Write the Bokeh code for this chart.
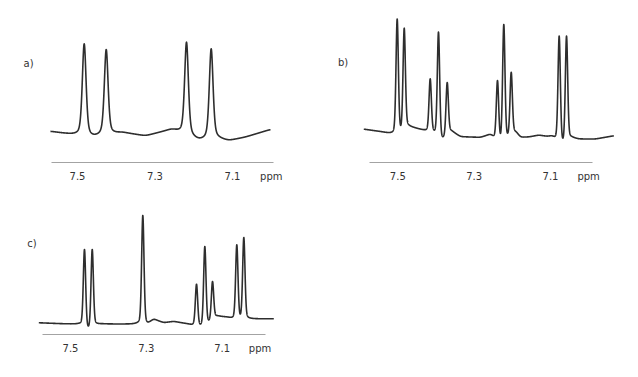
import numpy as np
from bokeh.plotting import figure
from bokeh.models import Range1d, FixedTicker
from bokeh.layouts import column, row
from bokeh.embed import file_html
from bokeh.resources import INLINE
from bokeh.core.properties import value

# ---------------- data ----------------
tick_values = [7.5, 7.3, 7.1, 7.0]
tick_overrides = {7.0: "ppm"}
panel_names = ["a)", "b)", "c)"]

# panel a: peak positions (ppm), peak top intensities, baseline knots
a_peak_ppm = [7.4827, 7.4259, 7.2187, 7.1550]
a_peak_top = [87.7, 82.0, 89.3, 82.7]
a_base_ppm = [7.5697, 7.5008, 7.4621, 7.3847, 7.3245, 7.2556, 7.1870, 7.1395, 7.1095, 7.0665, 7.0019]
a_base_int = [0.0, -4.0, -6.5, -1.2, -4.5, 2.0, -9.5, -7.4, -9.4, -5.7, 2.0]

# panel b
b_peak_ppm = [7.5016, 7.4832, 7.4151, 7.3934, 7.3706, 7.2388, 7.2223, 7.2029, 7.0772, 7.0580]
b_peak_top = [112.3, 103.0, 51.7, 99.0, 48.0, 50.0, 106.7, 58.3, 95.0, 95.0]
b_base_ppm = [7.5891, 7.5453, 7.4929, 7.4754, 7.4581, 7.4319, 7.4049, 7.3837, 7.3619, 7.3357,
              7.2833, 7.2571, 7.2309, 7.2108, 7.1917, 7.1785, 7.1550, 7.1306, 7.1080, 7.0955,
              7.0677, 7.0475, 7.0258, 6.9820, 6.9341]
b_base_int = [0.7, -1.9, -6.2, 3.0, 1.8, -0.8, -4.3, -12.7, -1.1, -7.1,
              -7.8, -4.9, -16.0, -9.9, -2.1, -8.0, -7.3, -5.5, -7.0, -6.7,
              -18.0, -8.2, -9.5, -9.3, -6.0]

# panel c
c_peak_ppm = [7.4631, 7.4427, 7.3092, 7.1675, 7.1456, 7.1253, 7.0612, 7.0427]
c_peak_top = [73.7, 73.7, 107.7, 39.0, 76.7, 41.7, 78.4, 85.7]
c_base_ppm = [7.5836, 7.5219, 7.4736, 7.4533, 7.4340, 7.4164, 7.3372, 7.3198, 7.2976, 7.2802,
              7.2712, 7.2538, 7.2274, 7.1921, 7.1570, 7.1351, 7.1148, 7.0865, 7.0533, 7.0322,
              7.0074, 6.9636]
c_base_int = [0.4, -0.6, -1.3, -9.2, -1.7, -0.9, -1.0, -0.7, -1.6, 4.1,
              2.6, 0.4, 1.7, -0.8, -4.7, -1.1, 6.8, 5.7, 1.8, 4.1,
              4.2, 4.4]

# ---------------- layout / style ----------------
LINE = "#2e2e2e"
AXIS = "#a3a3a3"
TEXT = "#333333"
FONT = "DejaVu Sans"

panels = [
    dict(name=panel_names[0], W=320, H=195, ppx=387.5, ref=77.0, base=131.0, axis=162,
         bounds=(6.9942, 7.5679), fwhm=4.5, eta=0.45, smooth=2.5, lab=(23, 63),
         pk=a_peak_ppm, top=a_peak_top, bx=a_base_ppm, by=a_base_int),
    dict(name=panel_names[1], W=318, H=195, ppx=381.7, ref=77.3, base=131.0, axis=164,
         bounds=(6.9907, 7.5734), fwhm=2.8, eta=0.25, smooth=1.5, lab=(17.5, 62.5),
         pk=b_peak_ppm, top=b_peak_top, bx=b_base_ppm, by=b_base_int),
    dict(name=panel_names[2], W=320, H=182, ppx=379.0, ref=70.0, base=127.7, axis=139,
         bounds=(6.9855, 7.5731), fwhm=2.8, eta=0.25, smooth=1.5, lab=(26.7, 48.3),
         pk=c_peak_ppm, top=c_peak_top, bx=c_base_ppm, by=c_base_int),
]


def shape(x, x0, fwhm, eta):
    d = (x - x0) / fwhm
    return eta / (1.0 + 4.0 * d * d) + (1.0 - eta) * np.exp(-4.0 * np.log(2.0) * d * d)


def make_panel(P):
    ppx = P["ppx"]
    xs = 7.5 + P["ref"] / ppx
    xe = 7.5 - (P["W"] - P["ref"]) / ppx
    ys = P["base"] - P["axis"]
    ye = P["base"]
    p = figure(width=P["W"], height=P["H"], output_backend="svg", toolbar_location=None,
               x_range=Range1d(xs, xe), y_range=Range1d(ys, ye), title=None,
               y_axis_location=None, min_border=0)
    p.min_border_left = 0
    p.min_border_right = 0
    p.min_border_top = 0
    p.min_border_bottom = P["H"] - P["axis"]
    p.outline_line_color = None
    p.background_fill_color = "white"
    p.border_fill_color = "white"
    p.xgrid.visible = False
    p.ygrid.visible = False

    ax = p.xaxis[0]
    ax.ticker = FixedTicker(ticks=tick_values)
    ax.major_label_overrides = tick_overrides
    ax.bounds = P["bounds"]
    ax.axis_line_color = AXIS
    ax.axis_line_width = 1
    ax.major_tick_line_color = None
    ax.minor_tick_line_color = None
    ax.major_tick_out = 0
    ax.major_tick_in = 0
    ax.major_label_standoff = 8
    ax.major_label_text_font = FONT
    ax.major_label_text_font_size = "10px"
    ax.major_label_text_color = TEXT

    # spectrum: smoothed baseline through knots + peaks
    bx = np.array(P["bx"])[::-1]
    by = np.array(P["by"])[::-1]
    x = np.linspace(bx[0], bx[-1], 3000)
    base = np.interp(x, bx, by)
    step = (x[1] - x[0]) * ppx
    n = int(np.ceil(4 * P["smooth"] / step))
    k = np.arange(-n, n + 1) * step
    ker = np.exp(-0.5 * (k / P["smooth"]) ** 2)
    ker /= ker.sum()
    padded = np.concatenate([np.full(n, base[0]), base, np.full(n, base[-1])])
    base = np.convolve(padded, ker, mode="valid")

    fw = P["fwhm"] / ppx
    pk = np.array(P["pk"])
    top = np.array(P["top"])
    M = np.array([[shape(xi, xj, fw, P["eta"]) for xj in pk] for xi in pk])
    tgt = top - np.interp(pk, bx, by)
    amp = np.linalg.solve(M, tgt)
    y = base.copy()
    for a, x0 in zip(amp, pk):
        y += a * shape(x, x0, fw, P["eta"])

    p.line(x, y, line_color=LINE, line_width=1.6, line_join="round")

    lx = 7.5 + (P["ref"] - P["lab"][0]) / ppx
    ly = P["base"] - P["lab"][1]
    p.text(x=[lx], y=[ly], text=[P["name"]], text_font=value(FONT), text_font_size="10px",
           text_color=TEXT, text_align="left", text_baseline="middle")
    return p


fa, fb, fc = [make_panel(P) for P in panels]
layout = column(row(fa, fb), fc)

open("out.html", "w").write(file_html(layout, INLINE))
